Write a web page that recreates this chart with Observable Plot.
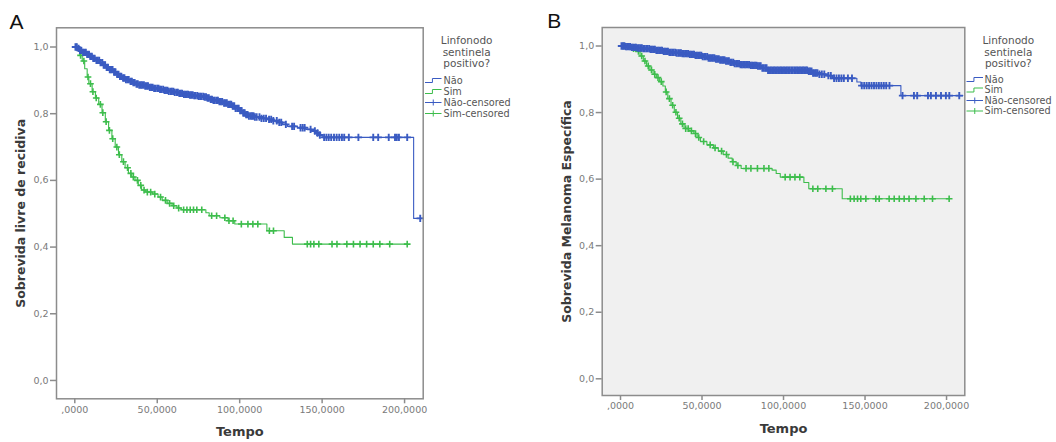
<!DOCTYPE html>
<html><head><meta charset="utf-8">
<script src="https://cdn.jsdelivr.net/npm/d3@7"></script>
<script src="https://cdn.jsdelivr.net/npm/@observablehq/plot@0.6"></script>
<style>
html,body{margin:0;padding:0;background:#fff;}
#wrap{position:relative;width:1056px;height:442px;overflow:hidden;background:#fff;}
.panel{position:absolute;top:0;width:528px;height:442px;}
</style></head><body>
<div id="wrap"><div id="pa" class="panel" style="left:0"></div><div id="pb" class="panel" style="left:528px"></div></div>
<script>
// ---------- labels ----------
const xTicks = [0, 50, 100, 150, 200];
const xTickLabels = [",0000", "50,0000", "100,0000", "150,0000", "200,0000"];
const yTicks = [0, 0.2, 0.4, 0.6, 0.8, 1.0];
const yTickLabels = ["0,0", "0,2", "0,4", "0,6", "0,8", "1,0"];
const legendTitle = ["Linfonodo", "sentinela", "positivo?"];
const legendLabels = ["Não", "Sim", "Não-censored", "Sim-censored"];
const panelLabels = ["A", "B"];
const yTitles = ["Sobrevida livre de recidiva", "Sobrevida Melanoma Específica"];
const xTitle = "Tempo";

// ---------- Panel A: Kaplan-Meier steps [time, survival] ----------
const naoA = [[0,1],[1.5,0.996],[3,0.99],[5,0.984],[7,0.978],[9,0.972],[11,0.966],[13,0.96],[15,0.953],[17,0.946],[19,0.939],[21,0.932],[23,0.925],[25,0.918],[27,0.912],[29,0.907],[31,0.902],[33,0.897],[35,0.893],[37,0.889],[39,0.886],[42,0.883],[45,0.879],[48,0.876],[51,0.873],[54,0.87],[57,0.867],[60,0.864],[63,0.861],[66,0.858],[69,0.856],[72,0.854],[75,0.852],[78,0.85],[80,0.847],[82,0.843],[84,0.84],[87,0.836],[90,0.832],[93,0.828],[95.5,0.823],[97.5,0.816],[99.5,0.809],[101.5,0.802],[103.5,0.797],[105.5,0.793],[109,0.79],[113,0.786],[117,0.783],[120,0.779],[123,0.774],[126,0.768],[129,0.762],[135,0.758],[140,0.753],[143.5,0.748],[146,0.742],[148,0.736],[150,0.729],[205.5,0.486],[211.3,0.486]];
const simA = [[0,1],[1.5,0.99],[3,0.975],[4.5,0.958],[6,0.935],[7.5,0.91],[8.5,0.89],[10.5,0.866],[12.5,0.847],[14.5,0.828],[16.5,0.803],[18.5,0.776],[20.5,0.75],[22.5,0.725],[24.5,0.7],[26.5,0.677],[28.5,0.656],[30.5,0.638],[32.5,0.621],[34.5,0.61],[36.5,0.6],[38.5,0.585],[40.5,0.571],[43,0.565],[47,0.559],[50.5,0.55],[53,0.54],[56,0.531],[59,0.524],[62,0.517],[64.5,0.512],[79.5,0.503],[81.5,0.494],[88,0.488],[93,0.479],[97,0.469],[116.5,0.449],[127,0.429],[132,0.409],[201.6,0.409]];
const naoACens = [0.4,1.2,2.3,3.1,3.9,5.0,5.8,6.7,7.5,8.6,9.4,10.3,11.2,12.0,13.1,13.9,14.8,15.6,16.7,17.5,18.4,19.3,20.1,21.2,22.0,22.9,23.8,24.6,25.7,26.5,27.4,28.2,29.3,30.1,31.0,31.9,32.7,33.8,34.6,35.5,36.3,37.4,38.2,39.1,40.0,40.8,41.9,42.7,43.6,44.4,45.5,46.3,47.2,48.1,48.9,50.0,50.8,51.7,52.5,53.6,54.4,55.3,56.2,57.0,58.1,58.9,59.8,60.6,61.7,62.5,63.4,64.3,65.1,66.2,67.0,67.9,68.7,69.8,70.6,71.5,72.4,73.2,74.3,75.1,76.0,76.8,77.9,78.7,79.6,80.5,81.3,82.4,83.2,84.1,84.9,86.0,86.8,87.7,88.6,89.4,90.5,91.3,92.2,93.0,94.1,94.9,95.8,96.7,97.5,98.6,99.4,100.3,101.1,102.2,103.0,103.9,104.8,105.6,106.7,107.5,108.4,109.2,110.3,112.0,113.2,114.6,116.0,117.8,119.1,120.4,122.5,124.0,125.2,128.0,131.8,133.0,136.9,138.2,139.4,143.0,145.6,147.2,148.6,151.2,152.6,154.0,155.5,157.2,158.8,160.4,162.0,163.4,166.2,172.0,181.0,184.0,190.4,194.2,195.3,196.6,201.6,209.5];
const simACens = [1,3.5,5.5,8,9.5,11,13,15.5,17,19,21,23,25.5,27,29.5,32,34,35.5,38,40,42,44,46,48.5,52,55,57.5,60,63,66,68,70,72,74,77,83,86,91,93.5,96,101,105,108,111,118,120.5,141,143,145,148,156,159,165,169,173,177,181,185,191,201.6];

// ---------- Panel B ----------
const naoB = [[0,1],[3,0.998],[6,0.996],[10,0.994],[14,0.992],[18,0.99],[22,0.987],[26,0.984],[30,0.981],[34,0.979],[38,0.977],[42,0.975],[46,0.972],[50,0.968],[54,0.964],[58,0.961],[61,0.958],[64,0.955],[67,0.951],[70,0.947],[73,0.944],[79,0.942],[84,0.94],[87,0.934],[90,0.927],[115,0.924],[118,0.919],[121,0.915],[126,0.911],[130,0.903],[145,0.892],[147.5,0.881],[172,0.851],[210,0.851]];
const simB = [[0,1],[4,0.998],[7,0.992],[9.5,0.984],[12,0.97],[14,0.955],[16,0.94],[18,0.928],[20,0.915],[22,0.905],[24,0.893],[26,0.88],[27.5,0.862],[29,0.842],[31,0.822],[33,0.801],[35,0.783],[37,0.766],[39,0.752],[42,0.745],[45,0.737],[47,0.725],[49,0.713],[53,0.703],[57,0.694],[60,0.684],[63,0.674],[66,0.663],[68.5,0.652],[71,0.641],[74,0.632],[93,0.627],[95.5,0.617],[98,0.606],[112.5,0.59],[115.5,0.571],[136,0.541],[201.6,0.541]];
const naoBCens = [0.6,1.5,2.4,3.3,4.1,5.1,5.9,6.9,7.7,8.7,9.5,10.4,11.3,12.2,13.1,14.0,14.8,15.8,16.6,17.6,18.4,19.3,20.2,21.1,22.0,22.9,23.7,24.7,25.5,26.5,27.3,28.2,29.1,30.0,30.9,31.8,32.6,33.6,34.4,35.4,36.2,37.1,38.0,38.9,39.8,40.7,41.5,42.5,43.3,44.3,45.1,46.0,46.9,47.8,48.7,49.6,50.4,51.4,52.2,53.2,54.0,54.9,55.8,56.7,57.6,58.5,59.3,60.3,61.1,62.1,62.9,63.8,64.7,65.6,66.5,67.4,68.2,69.2,70.0,71.0,71.8,72.7,73.6,74.5,75.4,76.3,77.1,78.1,78.9,79.9,80.7,81.6,82.5,83.4,84.3,85.2,86.0,87.0,87.8,88.8,89.6,90.5,91.4,92.3,93.2,94.1,94.9,95.9,96.7,97.7,98.5,99.4,100.3,101.2,102.1,103.0,103.8,104.8,105.6,106.6,107.4,108.3,109.2,110.1,111.0,111.9,112.7,113.7,114.5,115.5,116.3,117.2,118.1,119.0,119.9,120.8,122.0,123.5,125.0,127.5,129,131,132.5,134,135.5,137,139.5,142,148,149.5,151,152.5,154,155.5,157,158.5,160,161.5,163,165,173,180,182,188.6,190.4,193.5,196.6,199.6,201.7,207.8];
const simBCens = [2,5,8,11,13,15,17,19,21,23,25,28,30,32,34,36,38,40,41.5,43.5,46,48,51,55,58,62,65,69,72,77,80,84,88,91,101,104,107,110,118,121,126,130,141,143.3,145.4,147.4,150.5,156.6,158.7,164.8,167.9,171,174,177,181.2,186.3,191.4,201.6];

// ---------- styles ----------
const BLUE = "#3a5bc2";
const GREEN = "#3dbd4c";
const FRAME = "#8c8c8c";

function toRows(steps) { return steps.map(([t, s]) => ({t, s})); }
function censRows(times, steps) {
  return times.map(t => {
    let s = steps[0][1];
    for (const [st, sv] of steps) { if (st <= t) s = sv; else break; }
    return {t, s};
  });
}

function makePanel(cfg) {
  const svg = Plot.plot({
    width: 528, height: 442,
    marginLeft: cfg.ml, marginRight: cfg.mr, marginTop: cfg.mt, marginBottom: cfg.mb,
    x: {domain: cfg.xdom},
    y: {domain: cfg.ydom},
    style: {fontFamily: "'DejaVu Sans', sans-serif", fontSize: "9.5px", color: "#7a7a7a", background: "transparent", overflow: "visible"},
    marks: [
      cfg.bg ? Plot.frame({fill: cfg.bg, stroke: "none"}) : null,
      Plot.axisX({ticks: xTicks, tickFormat: d => xTickLabels[xTicks.indexOf(d)], tickSize: 5, tickPadding: 2, label: null, stroke: FRAME, strokeWidth: 1.5}),
      Plot.axisY({ticks: yTicks, tickFormat: d => yTickLabels[yTicks.indexOf(d)], tickSize: 6, tickPadding: 2, label: null, stroke: FRAME, strokeWidth: 1.5}),
      Plot.line(toRows(cfg.sim), {x: "t", y: "s", curve: "step-after", stroke: GREEN, strokeWidth: 1.1}),
      Plot.line(toRows(cfg.nao), {x: "t", y: "s", curve: "step-after", stroke: BLUE, strokeWidth: 1.1}),
      Plot.dot(censRows(cfg.simC, cfg.sim), {x: "t", y: "s", symbol: "plus", r: 2.3, stroke: GREEN, strokeWidth: 1.6}),
      Plot.dot(censRows(cfg.naoC, cfg.nao), {x: "t", y: "s", symbol: "plus", r: 2.5, stroke: BLUE, strokeWidth: 1.9}),
      Plot.frame({stroke: FRAME, strokeWidth: 1.5}),
      Plot.text([cfg.yTitle], {frameAnchor: "left", textAnchor: "middle", lineAnchor: "middle", rotate: -90, dx: cfg.ytdx, fontSize: 12.5, fontWeight: "bold", fill: "#3a3a3a"}),
      Plot.text([xTitle], {frameAnchor: "bottom", lineAnchor: "middle", dy: cfg.xtdy, fontSize: 13, fontWeight: "bold", fill: "#3a3a3a"}),
      Plot.text([cfg.label], {frameAnchor: "top-left", textAnchor: "middle", lineAnchor: "middle", dx: cfg.ldx, dy: cfg.ldy, fontSize: 21, fontFamily: "'Liberation Sans', Arial, sans-serif", fill: "#111"})
    ]
  });
  // legend
  const g = d3.select(svg).append("g").attr("font-family", "'DejaVu Sans', sans-serif").attr("text-anchor", "start");
  legendTitle.forEach((line, i) => {
    g.append("text").attr("x", cfg.leg.titleX).attr("y", cfg.leg.titleYs[i]).attr("dy", "0.35em")
      .attr("text-anchor", "middle").attr("font-size", 10.5).attr("fill", "#555").text(line);
  });
  const x0 = cfg.leg.symX, x1 = cfg.leg.symX2;
  const colors = [BLUE, GREEN, BLUE, GREEN];
  legendLabels.forEach((lab, i) => {
    const y = cfg.leg.ys[i];
    if (i < 2) {
      const xm = x0 + (x1 - x0) * 0.45;
      g.append("path").attr("d", `M${x0},${y + 2}H${xm}V${y - 2}H${x1}`)
        .attr("fill", "none").attr("stroke", colors[i]).attr("stroke-width", 1);
    } else {
      const xm = (x0 + x1) / 2;
      g.append("path").attr("d", `M${x0},${y}H${x1}M${xm},${y - 3}V${y + 3}`)
        .attr("fill", "none").attr("stroke", colors[i]).attr("stroke-width", 1);
    }
    g.append("text").attr("x", cfg.leg.textX).attr("y", y).attr("dy", "0.35em")
      .attr("text-anchor", "start").attr("font-size", 9.7).attr("fill", "#555").text(lab);
  });
  return svg;
}

document.getElementById("pa").appendChild(makePanel({
  ml: 56, mr: 105.3, mt: 27.3, mb: 43.7,
  xdom: [-11.1, 211.3], ydom: [-0.055, 1.0576],
  nao: naoA, sim: simA, naoC: naoACens, simC: simACens,
  yTitle: yTitles[0], ytdx: -36, xtdy: 33, label: panelLabels[0], ldx: -40, ldy: -6,
  leg: {titleX: 466.7, titleYs: [40, 52, 63.5], symX: 425, symX2: 441.5, textX: 443.5, ys: [80.5, 91.5, 102.5, 113.5]}
}));
document.getElementById("pb").appendChild(makePanel({
  ml: 73.7, mr: 91.7, mt: 27, mb: 47,
  xdom: [-11.23, 211.2], ydom: [-0.0502, 1.0556],
  nao: naoB, sim: simB, naoC: naoBCens, simC: simBCens, bg: "#f0f0f0",
  yTitle: yTitles[1], ytdx: -35, xtdy: 33.5, label: panelLabels[1], ldx: -48, ldy: -6.5,
  leg: {titleX: 480.3, titleYs: [40, 52, 63], symX: 438.5, symX2: 455, textX: 456.5, ys: [79.5, 90, 100.5, 111]}
}));
</script>
</body></html>
